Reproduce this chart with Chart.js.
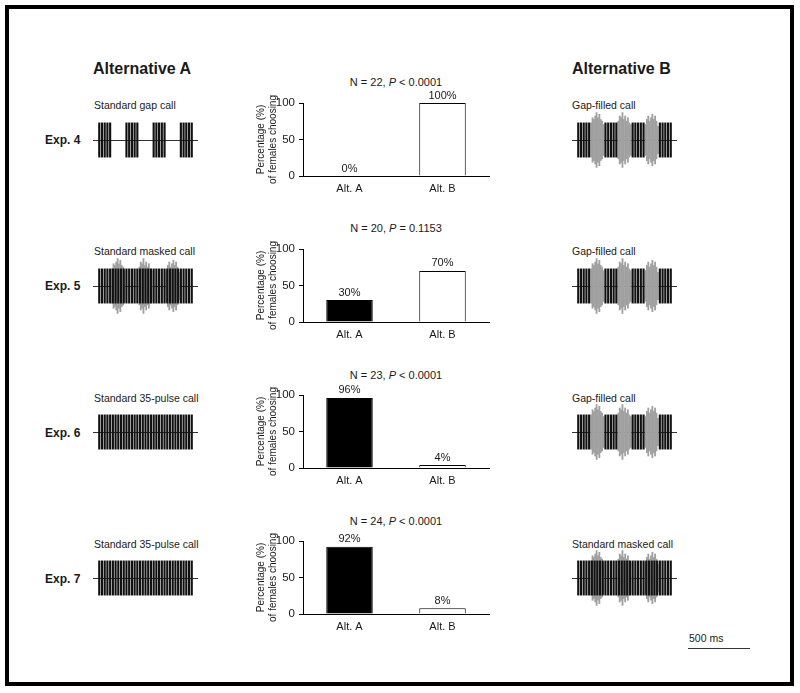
<!DOCTYPE html>
<html>
<head>
<meta charset="utf-8">
<script src="https://cdn.jsdelivr.net/npm/chart.js@4/dist/chart.umd.min.js"></script>
<style>
    body { margin: 0; background: #fff; font-family: "Liberation Sans", Arial, sans-serif; color: #1a1a1a; }
    #fig { position: relative; width: 800px; height: 693px; overflow: hidden; }
    .frame { position: absolute; left: 5px; top: 5px; width: 781px; height: 673px; border: 4px solid #000; }
    .txt { position: absolute; white-space: nowrap; line-height: 1; }
    .head { font-weight: bold; font-size: 16px; transform: translateY(-50%); }
    .exp { font-weight: bold; font-size: 12px; transform: translateY(-50%); }
    .lab { font-size: 10.5px; transform: translateY(-50%); }
    .ttl { font-size: 11px; transform: translate(-50%, -50%); }
    .scalebar { position: absolute; left: 688px; top: 648px; width: 62px; height: 1px; background: #333; }
    canvas { position: absolute; }
</style>
</head>
<body>
<div id="fig">
    <div class="frame"></div>
    <div class="txt head" style="left:93px; top:69px;">Alternative A</div>
    <div class="txt head" style="left:572px; top:69px;">Alternative B</div>
    <div class="txt lab" style="left:689px; top:638px;">500 ms</div>
    <div class="scalebar"></div>
</div>
<script>
const experiments = ['Exp. 4', 'Exp. 5', 'Exp. 6', 'Exp. 7'];
const altACalls = ['Standard gap call', 'Standard masked call', 'Standard 35-pulse call', 'Standard 35-pulse call'];
const altBCalls = ['Gap-filled call', 'Gap-filled call', 'Gap-filled call', 'Standard masked call'];
const sampleN = [22, 20, 23, 24];
const pRelation = ['<', '=', '<', '<'];
const pValue = ['0.0001', '0.1153', '0.0001', '0.0001'];
const choices = ['Alt. A', 'Alt. B'];
const pctAltA = [0, 30, 96, 92];
const pctAltB = [100, 70, 4, 8];
const yTicks = [0, 50, 100];

// relative pulse amplitude in each of the 35 pulse slots (0 = silent gap)
const pulsesGap  = [1,1,1,1,1, 0,0,0,0,0, 1,1,1,1,1, 0,0,0,0,0, 1,1,1,1,1, 0,0,0,0,0, 1,1,1,1,1];
const pulsesFull = [1,1,1,1,1, 1,1,1,1,1, 1,1,1,1,1, 1,1,1,1,1, 1,1,1,1,1, 1,1,1,1,1, 1,1,1,1,1];
// noise envelope in the three gaps (two samples per pulse slot)
const noiseGap1 = [1.0, 1.3, 1.2, 1.4, 1.6, 1.3, 1.5, 1.2, 1.1, 0.9];
const noiseGap2 = [1.1, 1.4, 1.3, 1.6, 1.2, 1.4, 1.1, 1.3, 1.0, 0.9];
const noiseGap3 = [0.9, 1.2, 1.4, 1.1, 1.3, 1.5, 1.2, 1.4, 1.1, 0.8];
const gapStarts = [6, 16, 26];

const FONT = '"Liberation Sans", Arial, sans-serif';
Chart.defaults.font.family = FONT;
Chart.defaults.color = '#1a1a1a';

const ROW = 146.3;
const fig = document.getElementById('fig');

function addText(cls, text, left, top, html) {
    const d = document.createElement('div');
    d.className = 'txt ' + cls;
    d.style.left = left + 'px';
    d.style.top = top + 'px';
    if (html) d.innerHTML = text; else d.textContent = text;
    fig.appendChild(d);
}

function addCanvas(left, top, w, h) {
    const c = document.createElement('canvas');
    c.width = w; c.height = h;
    c.style.left = left + 'px'; c.style.top = top + 'px';
    c.style.width = w + 'px'; c.style.height = h + 'px';
    fig.appendChild(c);
    return c;
}

function callKind(name) {
    if (name === 'Standard gap call') return { pulses: pulsesGap, noise: false };
    if (name === 'Gap-filled call') return { pulses: pulsesGap, noise: true };
    if (name === 'Standard masked call') return { pulses: pulsesFull, noise: true };
    return { pulses: pulsesFull, noise: false };
}

function drawWave(canvas, name) {
    const kind = callKind(name);
    const pulseData = [];
    kind.pulses.forEach((a, i) => { if (a) pulseData.push({ x: i + 1, y: [-a, a] }); });
    const noiseData = [];
    if (kind.noise) {
        [noiseGap1, noiseGap2, noiseGap3].forEach((env, g) => {
            env.forEach((a, k) => noiseData.push({ x: gapStarts[g] - 0.25 + k * 0.5, y: [-a, a] }));
        });
    }
    new Chart(canvas, {
        type: 'bar',
        data: {
            datasets: [
                { data: pulseData, backgroundColor: '#111', barThickness: 1.5, grouped: false },
                { data: noiseData, backgroundColor: '#a0a0a0', barThickness: 1.2, grouped: false },
            ]
        },
        options: {
            responsive: false, animation: false, devicePixelRatio: 1,
            layout: { padding: 0 },
            plugins: { legend: { display: false }, tooltip: { enabled: false } },
            scales: {
                x: { type: 'linear', min: -1.3, max: 37.3, offset: false, display: false },
                y: {
                    min: -1.75, max: 1.75, z: 1,
                    afterBuildTicks: s => { s.ticks = [{ value: 0 }]; },
                    afterFit: s => { s.width = 0; },
                    ticks: { display: false },
                    border: { display: false },
                    grid: { color: '#333', lineWidth: 1, drawTicks: false },
                }
            }
        }
    });
}

const valueLabels = {
    id: 'valueLabels',
    afterDatasetsDraw(chart) {
        const ctx = chart.ctx;
        const meta = chart.getDatasetMeta(0);
        ctx.save();
        ctx.font = '11px ' + FONT;
        ctx.fillStyle = '#1a1a1a';
        ctx.textAlign = 'center';
        ctx.textBaseline = 'bottom';
        meta.data.forEach((bar, j) => {
            ctx.fillText(chart.data.datasets[0].data[j] + '%', bar.x, bar.y - 2);
        });
        ctx.restore();
    }
};

function drawBars(canvas, i) {
    new Chart(canvas, {
        type: 'bar',
        data: {
            labels: choices,
            datasets: [{
                data: [pctAltA[i], pctAltB[i]],
                backgroundColor: ['#000', '#fff'],
                borderColor: '#000',
                borderWidth: 1,
                barPercentage: 0.5,
                categoryPercentage: 1,
            }]
        },
        options: {
            responsive: false, animation: false, devicePixelRatio: 1,
            layout: { padding: { top: 20, right: 6, left: 0, bottom: 0 } },
            plugins: { legend: { display: false }, tooltip: { enabled: false } },
            scales: {
                x: {
                    grid: { display: false, drawTicks: false },
                    border: { display: true, color: '#000' },
                    ticks: { font: { size: 11 }, padding: 6 },
                    afterFit: s => { s.height = 22; },
                },
                y: {
                    min: 0, max: 100,
                    afterBuildTicks: s => { s.ticks = yTicks.map(v => ({ value: v })); },
                    afterFit: s => { s.width = 63; },
                    grid: { drawOnChartArea: false, tickLength: 4, color: '#000' },
                    border: { color: '#000' },
                    ticks: { font: { size: 11.5 }, padding: 4 },
                    title: {
                        display: true,
                        text: ['Percentage (%)', 'of females choosing'],
                        font: { size: 10, lineHeight: 1.2 },
                        padding: { top: 15, bottom: 0 },
                    },
                }
            }
        },
        plugins: [valueLabels]
    });
}

experiments.forEach((exp, i) => {
    const off = i * ROW;
    addText('exp', exp, 45, 140 + off);
    addText('lab', altACalls[i], 94, 105 + off);
    addText('lab', altBCalls[i], 572, 105 + off);
    addText('ttl', 'N = ' + sampleN[i] + ', <i>P</i> ' + pRelation[i].replace('<', '&lt;') + ' ' + pValue[i], 396, 82 + off, true);

    drawWave(addCanvas(93, Math.round(139.5 + off - 30), 105, 60), altACalls[i]);
    drawWave(addCanvas(572, Math.round(139.5 + off - 30), 105, 60), altBCalls[i]);

    const plotTop = Math.round(102.5 + off);
    drawBars(addCanvas(240, plotTop - 20, 255, 20 + 73 + 22), i);
});
</script>
</body>
</html>
